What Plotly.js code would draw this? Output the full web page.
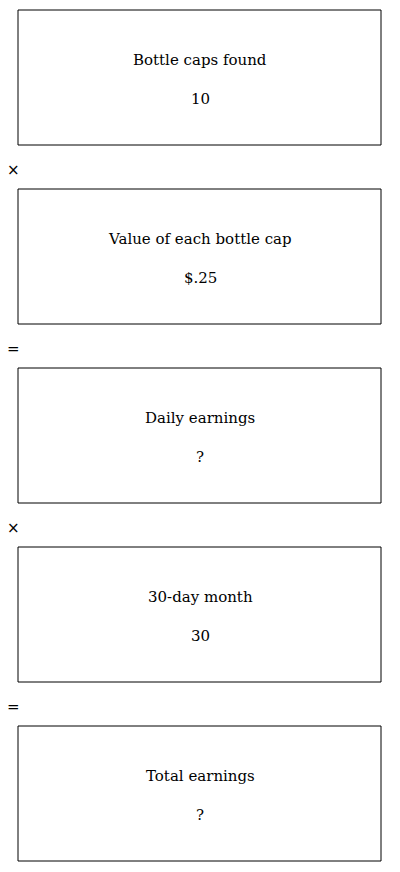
<!DOCTYPE html>
<html><head><meta charset="utf-8">
<script src="https://cdn.plot.ly/plotly-3.0.1.min.js"></script>
<style>html,body{margin:0;padding:0;background:#fff}</style>
</head><body><div id="c" style="width:400px;height:872px"></div>
<script>
const labels = ["Bottle caps found","Value of each bottle cap","Daily earnings","30-day month","Total earnings"];
const values = ["10","$.25","?","30","?"];
const operators = ["×","=","×","="];

const top0 = 10, boxH = 135, pitch = 179, x0 = 18, x1 = 381;
const shapes = [], annotations = [];
const font = {family:"DejaVu Serif, serif", size:15, color:"#000"};
labels.forEach((l,i)=>{
  const y = top0 + i*pitch;
  shapes.push({type:"rect", xref:"x", yref:"y", x0:x0, x1:x1, y0:y, y1:y+boxH, line:{color:"#000", width:1}});
  annotations.push({x:200, y:y+50, xref:"x", yref:"y", text:l, showarrow:false, font:font});
  annotations.push({x:200, y:y+89, xref:"x", yref:"y", text:values[i], showarrow:false, font:font});
});
operators.forEach((o,i)=>{
  annotations.push({x:13, y:top0 + i*pitch + boxH + 25, xref:"x", yref:"y", text:o, showarrow:false,
    font:{family:"DejaVu Sans, sans-serif", size:15, color:"#000"}});
});
Plotly.newPlot("c", [], {
  width:400, height:872, margin:{l:0,r:0,t:0,b:0},
  paper_bgcolor:"#fff", plot_bgcolor:"#fff",
  xaxis:{range:[0,400], visible:false, fixedrange:true},
  yaxis:{range:[872,0], visible:false, fixedrange:true},
  shapes:shapes, annotations:annotations, showlegend:false
}, {displayModeBar:false, staticPlot:true});
</script></body></html>
